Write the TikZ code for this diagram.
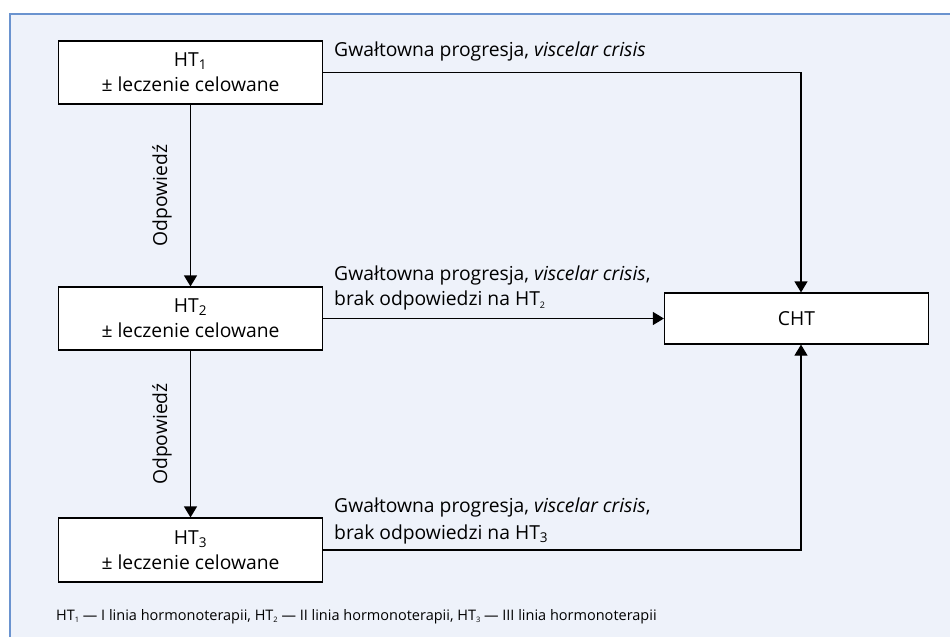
\documentclass[tikz,border=0pt]{standalone}
\usepackage{fontspec}
\setmainfont{Open Sans}
\usetikzlibrary{arrows.meta}
\definecolor{panel}{HTML}{EEF2FA}
\definecolor{frameblue}{HTML}{6A93CF}
% normal and small subscripts for the HT labels
\newcommand{\lowsub}[1]{\textsubscript{#1}}
\newcommand{\smallsub}[1]{\raisebox{-0.3ex}{\fontsize{9}{9}\selectfont #1}}
\newcommand{\notesub}[1]{\raisebox{-0.3ex}{\fontsize{7.5}{7.5}\selectfont #1}}
\begin{document}
\begin{tikzpicture}[x=1pt,y=-1pt,
  every node/.style={font=\fontsize{19.3}{25}\selectfont, inner sep=0pt},
  stagebox/.style={draw, fill=white, line width=1.2pt, minimum width=264pt,
    minimum height=63pt, align=center},
  flow/.style={line width=1.2pt, -{Triangle[length=11pt,width=13pt]}},
  lbl/.style={anchor=base west},
]
\useasboundingbox (0,0) rectangle (950,637);
% panel background with its blue top and left edges
\fill[panel] (10,14) rectangle (950,637);
\draw[frameblue, line width=2pt] (10,637) -- (10,14) -- (950,14);

% treatment lines
\node[stagebox] (ht1) at (190.5,72.5) {HT\lowsub{1}\\ ± leczenie celowane};
\node[stagebox] (ht2) at (190.5,318.5) {HT\lowsub{2}\\ ± leczenie celowane};
\node[stagebox, minimum height=64pt] (ht3) at (190.5,550) {HT\lowsub{3}\\ ± leczenie celowane};
\node[stagebox, minimum height=51pt] (cht) at (796.5,318.5) {CHT};

% response labels on the vertical arrows
\node[rotate=90] (r1) at (162,195.5) {Odpowiedź};
\node[rotate=90] (r2) at (162,434) {Odpowiedź};

% progression labels
\node[lbl] (l1) at (334,56) {Gwałtowna progresja, \textit{viscelar crisis}};
\node[lbl] (l2a) at (334,280) {Gwałtowna progresja, \textit{viscelar crisis},};
\node[lbl] (l2b) at (334,305) {brak odpowiedzi na HT\smallsub{2}};
\node[lbl] (l3a) at (334,512) {Gwałtowna progresja, \textit{viscelar crisis},};
\node[lbl] (l3b) at (334,539) {brak odpowiedzi na HT\lowsub{3}};

% legend
\node[anchor=base west, font=\fontsize{14.5}{17}\selectfont] (note) at (56,620)
  {HT\notesub{1} — I linia hormonoterapii, HT\notesub{2} — II linia hormonoterapii, HT\notesub{3} — III linia hormonoterapii};

% connectors
\coordinate (bend1) at (801,72.5);
\coordinate (bend3) at (801,550);
\draw[flow] (ht1.east) -- (bend1) -- (bend1 |- cht.north);
\draw[flow] (ht1.south) -- (ht2.north);
\draw[flow] (ht2.south) -- (ht3.north);
\draw[flow] (ht2.east) -- (cht.west);
\draw[flow] (ht3.east) -- (bend3) -- (bend3 |- cht.south);
\end{tikzpicture}
\end{document}
